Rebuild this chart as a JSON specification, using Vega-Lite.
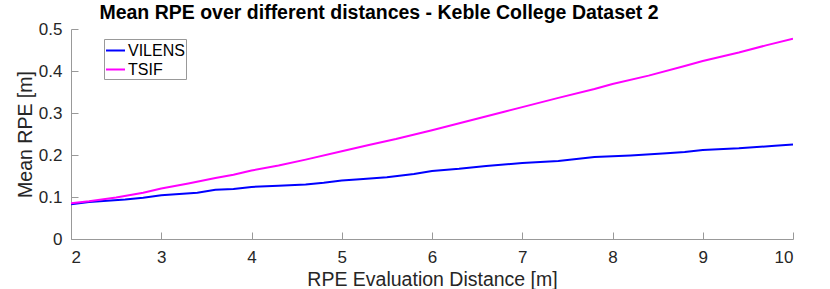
{
  "$schema": "https://vega.github.io/schema/vega-lite/v6.json",
  "width": 722,
  "height": 210,
  "autosize": "none",
  "padding": {"left": 71, "top": 29, "right": 37, "bottom": 50},
  "background": "white",
  "title": {
    "text": "Mean RPE over different distances - Keble College Dataset 2",
    "anchor": "middle",
    "frame": "group",
    "dx": -53,
    "dy": 26,
    "baseline": "alphabetic",
    "offset": 8,
    "font": "Liberation Sans",
    "fontSize": 19.5,
    "fontWeight": "bold",
    "color": "#000000"
  },
  "config": {
    "view": {"stroke": null},
    "font": "Liberation Sans"
  },
  "data": {
    "values": [
      {"d": 2.0, "method": "VILENS", "rpe": 0.083},
      {"d": 2.2, "method": "VILENS", "rpe": 0.088},
      {"d": 2.4, "method": "VILENS", "rpe": 0.091},
      {"d": 2.6, "method": "VILENS", "rpe": 0.094},
      {"d": 2.8, "method": "VILENS", "rpe": 0.098},
      {"d": 3.0, "method": "VILENS", "rpe": 0.104},
      {"d": 3.2, "method": "VILENS", "rpe": 0.107},
      {"d": 3.4, "method": "VILENS", "rpe": 0.110},
      {"d": 3.6, "method": "VILENS", "rpe": 0.117},
      {"d": 3.8, "method": "VILENS", "rpe": 0.119},
      {"d": 4.0, "method": "VILENS", "rpe": 0.124},
      {"d": 4.3, "method": "VILENS", "rpe": 0.127},
      {"d": 4.6, "method": "VILENS", "rpe": 0.130},
      {"d": 4.8, "method": "VILENS", "rpe": 0.134},
      {"d": 5.0, "method": "VILENS", "rpe": 0.139},
      {"d": 5.2, "method": "VILENS", "rpe": 0.142},
      {"d": 5.5, "method": "VILENS", "rpe": 0.147},
      {"d": 5.8, "method": "VILENS", "rpe": 0.155},
      {"d": 6.0, "method": "VILENS", "rpe": 0.162},
      {"d": 6.3, "method": "VILENS", "rpe": 0.167},
      {"d": 6.6, "method": "VILENS", "rpe": 0.174},
      {"d": 7.0, "method": "VILENS", "rpe": 0.181},
      {"d": 7.4, "method": "VILENS", "rpe": 0.186},
      {"d": 7.8, "method": "VILENS", "rpe": 0.195},
      {"d": 8.2, "method": "VILENS", "rpe": 0.199},
      {"d": 8.6, "method": "VILENS", "rpe": 0.204},
      {"d": 8.8, "method": "VILENS", "rpe": 0.207},
      {"d": 9.0, "method": "VILENS", "rpe": 0.212},
      {"d": 9.4, "method": "VILENS", "rpe": 0.216},
      {"d": 9.8, "method": "VILENS", "rpe": 0.222},
      {"d": 10.0, "method": "VILENS", "rpe": 0.225},
      {"d": 2.0, "method": "TSIF", "rpe": 0.085},
      {"d": 2.2, "method": "TSIF", "rpe": 0.090},
      {"d": 2.5, "method": "TSIF", "rpe": 0.099},
      {"d": 2.8, "method": "TSIF", "rpe": 0.110},
      {"d": 3.0, "method": "TSIF", "rpe": 0.120},
      {"d": 3.3, "method": "TSIF", "rpe": 0.132},
      {"d": 3.6, "method": "TSIF", "rpe": 0.145},
      {"d": 3.8, "method": "TSIF", "rpe": 0.153},
      {"d": 4.0, "method": "TSIF", "rpe": 0.163},
      {"d": 4.3, "method": "TSIF", "rpe": 0.175},
      {"d": 4.6, "method": "TSIF", "rpe": 0.189},
      {"d": 5.0, "method": "TSIF", "rpe": 0.209},
      {"d": 5.3, "method": "TSIF", "rpe": 0.224},
      {"d": 5.6, "method": "TSIF", "rpe": 0.238},
      {"d": 6.0, "method": "TSIF", "rpe": 0.259},
      {"d": 6.4, "method": "TSIF", "rpe": 0.281},
      {"d": 6.8, "method": "TSIF", "rpe": 0.303},
      {"d": 7.0, "method": "TSIF", "rpe": 0.314},
      {"d": 7.4, "method": "TSIF", "rpe": 0.336},
      {"d": 7.8, "method": "TSIF", "rpe": 0.357},
      {"d": 8.0, "method": "TSIF", "rpe": 0.369},
      {"d": 8.4, "method": "TSIF", "rpe": 0.389},
      {"d": 8.8, "method": "TSIF", "rpe": 0.412},
      {"d": 9.0, "method": "TSIF", "rpe": 0.424},
      {"d": 9.4, "method": "TSIF", "rpe": 0.444},
      {"d": 9.7, "method": "TSIF", "rpe": 0.461},
      {"d": 10.0, "method": "TSIF", "rpe": 0.477}
    ]
  },
  "mark": {"type": "line", "strokeWidth": 2, "clip": true},
  "encoding": {
    "x": {
      "field": "d",
      "type": "quantitative",
      "scale": {"domain": [2, 10], "nice": false, "zero": false},
      "axis": {
        "title": "RPE Evaluation Distance [m]",
        "values": [2, 3, 4, 5, 6, 7, 8, 9, 10],
        "format": "d",
        "grid": false,
        "domainColor": "#999999",
        "tickColor": "#999999",
        "tickSize": -7,
        "labelPadding": 17,
        "labelFont": "Liberation Sans",
        "labelFontSize": 17,
        "labelColor": "#262626",
        "titleFont": "Liberation Sans",
        "titleFontSize": 19.5,
        "titleFontWeight": "normal",
        "titleColor": "#262626",
        "titlePadding": 5
      }
    },
    "y": {
      "field": "rpe",
      "type": "quantitative",
      "scale": {"domain": [0, 0.5], "nice": false},
      "axis": {
        "title": "Mean RPE [m]",
        "values": [0, 0.1, 0.2, 0.3, 0.4, 0.5],
        "format": "~g",
        "grid": false,
        "domainColor": "#999999",
        "tickColor": "#999999",
        "tickSize": -7,
        "labelPadding": 16,
        "labelFont": "Liberation Sans",
        "labelFontSize": 17,
        "labelColor": "#262626",
        "titleFont": "Liberation Sans",
        "titleFontSize": 19.5,
        "titleFontWeight": "normal",
        "titleColor": "#262626",
        "titlePadding": 3
      }
    },
    "color": {
      "field": "method",
      "type": "nominal",
      "sort": ["VILENS", "TSIF"],
      "scale": {"domain": ["VILENS", "TSIF"], "range": ["#0000ff", "#ff00ff"]},
      "legend": {
        "title": null,
        "orient": "none",
        "legendX": 33,
        "legendY": 10,
        "symbolType": "stroke",
        "symbolSize": 361,
        "symbolStrokeWidth": 2,
        "labelFont": "Liberation Sans",
        "labelFontSize": 16,
        "labelColor": "#000000",
        "labelOffset": 2,
        "rowPadding": -1,
        "padding": 1,
        "strokeColor": "#999999",
        "fillColor": "white"
      }
    }
  }
}
